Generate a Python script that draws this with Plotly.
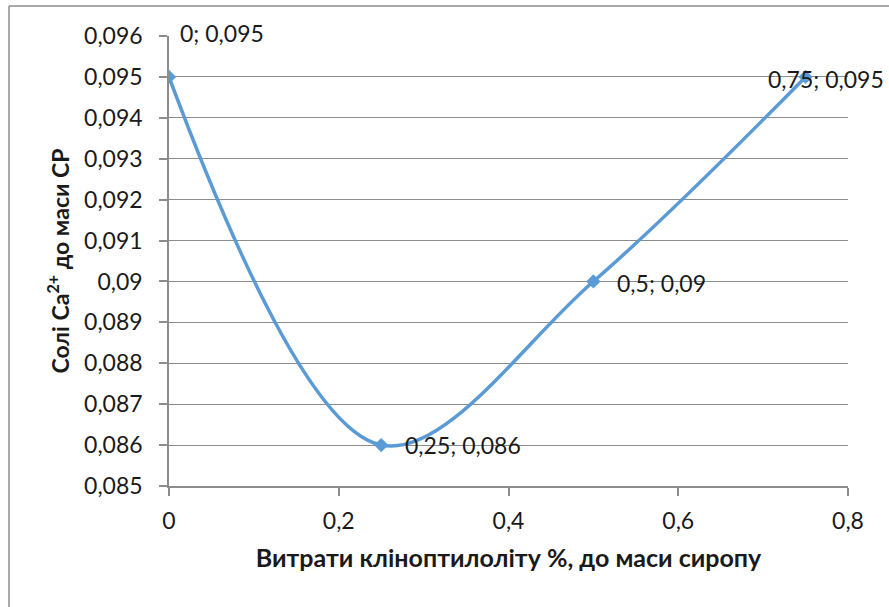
import plotly.graph_objects as go

# Clinoptilolite dose (% of syrup mass) and Ca2+ salts (% of dry matter)
dose = [0, 0.25, 0.5, 0.75]
ca_salts = [0.095, 0.086, 0.09, 0.095]

x_ticks = [0, 0.2, 0.4, 0.6, 0.8]
y_ticks = [0.085, 0.086, 0.087, 0.088, 0.089, 0.09, 0.091, 0.092, 0.093, 0.094, 0.095, 0.096]

x_title = "Витрати кліноптилоліту %, до маси сиропу"
y_title = "Солі Ca<sup>2+</sup> до маси СР"


def fmt(v):
    s = f"{v:.3f}".rstrip("0").rstrip(".")
    return s.replace(".", ",")


# label offsets (px) for each point label
label_dx = [9, 22, 22, -40]
label_dy = [44, 0, -2, -2]

LINE = "#5B9BD5"
GRID = "#8C8C8C"
TEXT = "#1a1a1a"
FONT = "Lato, 'Open Sans', sans-serif"

fig = go.Figure()
fig.add_trace(go.Scatter(
    x=dose, y=ca_salts,
    mode="lines+markers",
    line=dict(color=LINE, width=3.5, shape="spline", smoothing=1.0),
    marker=dict(symbol="diamond", size=11, color=LINE),
    hoverinfo="skip",
))

for xv, yv, dx, dy in zip(dose, ca_salts, label_dx, label_dy):
    fig.add_annotation(
        x=xv, y=yv, xref="x", yref="y",
        text=f"{fmt(xv)}; {fmt(yv)}",
        showarrow=False, xanchor="left", yanchor="middle",
        xshift=dx, yshift=dy,
        font=dict(family=FONT, size=23, color=TEXT),
    )

# chart frame (left and top edges)
fig.add_shape(type="line", xref="paper", yref="paper",
              x0=-160 / 679, y0=1 + 30 / 450, x1=-160 / 679, y1=-121 / 450 - 0.01,
              line=dict(color=GRID, width=1.5))
fig.add_shape(type="line", xref="paper", yref="paper",
              x0=-160 / 679, y0=1 + 30 / 450, x1=1 + 42 / 679, y1=1 + 30 / 450,
              line=dict(color=GRID, width=1.5))

fig.update_layout(
    width=889, height=607,
    margin=dict(l=169, r=41, t=36, b=121),
    paper_bgcolor="white", plot_bgcolor="white",
    showlegend=False,
    separators=", ",
    font=dict(family=FONT, color=TEXT),
    xaxis=dict(
        range=[0, 0.8],
        tickvals=x_ticks, ticktext=[fmt(v) for v in x_ticks],
        showgrid=False, zeroline=False,
        showline=True, linecolor=GRID, linewidth=1.5,
        ticks="outside", ticklen=8, tickcolor=GRID, tickwidth=1.5,
        ticklabelstandoff=6,
        tickfont=dict(size=23, family=FONT, color=TEXT),
        title=dict(text=f"<b>{x_title}</b>",
                   font=dict(size=25, family=FONT, color=TEXT), standoff=16),
    ),
    yaxis=dict(
        range=[0.085, 0.096],
        tickvals=y_ticks, ticktext=[fmt(v) for v in y_ticks],
        showgrid=True, gridcolor=GRID, gridwidth=1.2,
        zeroline=False,
        showline=True, linecolor=GRID, linewidth=1.5,
        ticks="outside", ticklen=8, tickcolor=GRID, tickwidth=1.5,
        ticklabelstandoff=12,
        tickfont=dict(size=23, family=FONT, color=TEXT),
        title=dict(text=f"<b>{y_title}</b>",
                   font=dict(size=23, family=FONT, color=TEXT), standoff=8),
    ),
)

fig.write_html("out.html")
